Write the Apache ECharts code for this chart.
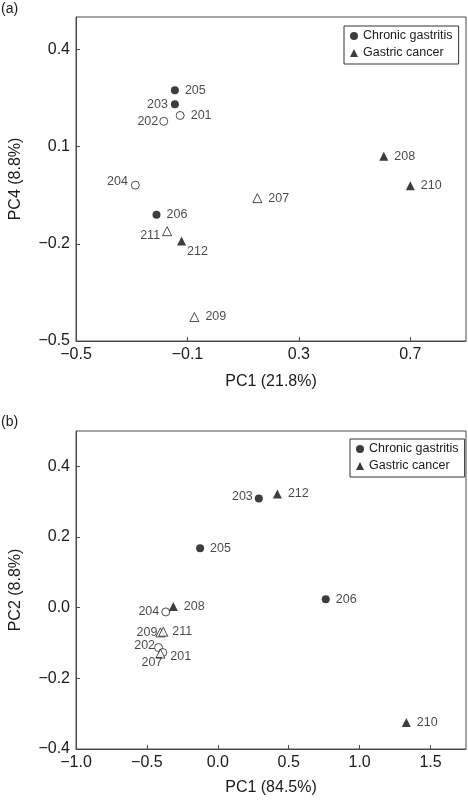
<!DOCTYPE html>
<html><head><meta charset="utf-8">
<script src="https://cdn.jsdelivr.net/npm/echarts@6/dist/echarts.min.js"></script>
<style>html,body{margin:0;padding:0;background:#fff}#c{width:468px;height:800px}</style>
</head><body><div id="c"></div>
<script>
// Panel (a): PC1 (21.8%) vs PC4 (8.8%)   [PC1, PC4, sample]
const aCGFilled = [[-0.145, 0.274, '205'], [-0.145, 0.231, '203'], [-0.211, -0.110, '206']];
const aCGOpen   = [[-0.126, 0.196, '201'], [-0.185, 0.178, '202'], [-0.287, -0.019, '204']];
const aGCFilled = [[0.605, 0.070, '208'], [0.700, -0.021, '210'], [-0.121, -0.191, '212']];
const aGCOpen   = [[0.151, -0.059, '207'], [-0.173, -0.161, '211'], [-0.075, -0.426, '209']];
const aXTicks = [-0.5, -0.1, 0.3, 0.7];
const aYTicks = [-0.5, -0.2, 0.1, 0.4];

// Panel (b): PC1 (84.5%) vs PC2 (8.8%)   [PC1, PC2, sample]
const bCGFilled = [[0.289, 0.309, '203'], [-0.125, 0.168, '205'], [0.761, 0.024, '206']];
const bCGOpen   = [[-0.367, -0.012, '204'], [-0.418, -0.113, '202'], [-0.388, -0.127, '201']];
const bGCFilled = [[0.420, 0.322, '212'], [-0.314, 0.003, '208'], [1.329, -0.325, '210']];
const bGCOpen   = [[-0.405, -0.070, '209'], [-0.385, -0.068, '211'], [-0.405, -0.130, '207']];
const bXTicks = [-1.0, -0.5, 0.0, 0.5, 1.0, 1.5];
const bYTicks = [-0.4, -0.2, 0.0, 0.2, 0.4];

const legendNames = ['Chronic gastritis', 'Gastric cancer'];

const F = '"Liberation Sans", Arial, Helvetica, sans-serif';
const TXT = '#1a1a1a';
const AX = '#4a4a4a';

// label placement (style only)
const placeA = {
  '203': {position: 'left', distance: 3},
  '202': {position: 'left', distance: 1},
  '204': {position: 'left', distance: 3, offset: [0, -4]},
  '211': {position: 'left', distance: 2, offset: [0, 4]},
  '212': {position: 'right', distance: 6, offset: [-5, 11]}
};
const placeB = {
  '203': {position: 'left', distance: 2, offset: [0, -2]},
  '204': {position: 'left', distance: 2},
  '209': {position: 'left', distance: 1, offset: [3, 0]},
  '202': {position: 'left', distance: 1, offset: [2, -2]},
  '207': {position: 'left', distance: 1, offset: [8, 9]},
  '201': {position: 'right', distance: 6, offset: [-3, 4]},
  '211': {position: 'right', distance: 6, offset: [-2, 0]}
};

function fmt(v) {
  return (v < 0 ? '\u2212' : '') + Math.abs(v).toFixed(1);
}

function mk(name, data, symbol, filled, gi, place) {
  return {
    type: 'scatter', name: name, xAxisIndex: gi, yAxisIndex: gi,
    symbol: symbol, symbolSize: symbol === 'circle' ? 8 : 9,
    itemStyle: filled ? {color: '#0d0d0d', borderWidth: 0}
                      : {color: '#fff', borderColor: '#222', borderWidth: 1},
    label: {show: true, position: 'right', distance: 6, formatter: function (p) { return p.name; },
            fontSize: 12.5, color: TXT, fontFamily: F},
    emphasis: {disabled: true},
    z: filled ? 3 : 2,
    data: data.map(function (d) {
      const item = {value: [d[0], d[1]], name: d[2]};
      if (place[d[2]]) item.label = place[d[2]];
      return item;
    })
  };
}

function axis(gi, min, max, ticks, name, gap) {
  return {
    type: 'value', gridIndex: gi, min: min, max: max,
    name: name, nameLocation: 'middle', nameGap: gap,
    nameTextStyle: {fontSize: 16, color: TXT, fontFamily: F},
    axisLine: {show: true, onZero: false, lineStyle: {color: AX, width: 1}},
    axisTick: {show: true, inside: true, length: 4, customValues: ticks, lineStyle: {color: AX}},
    axisLabel: {customValues: ticks, formatter: fmt, fontSize: 16, color: TXT, margin: 6, fontFamily: F},
    splitLine: {show: false}
  };
}

function legend(left, top) {
  return {
    data: legendNames, orient: 'vertical', left: left, top: top,
    itemWidth: 8, itemHeight: 8, itemGap: 3, padding: [3, 6, 4, 6],
    borderColor: '#333', borderWidth: 1, backgroundColor: '#fff',
    selectedMode: false,
    textStyle: {fontSize: 12.5, color: TXT, fontFamily: F, lineHeight: 14}
  };
}

const chart = echarts.init(document.getElementById('c'), null, {renderer: 'canvas'});
chart.setOption({
  animation: false,
  backgroundColor: '#fff',
  title: [
    {text: '(a)', left: 1, top: 2, padding: 0, textStyle: {fontSize: 14, fontWeight: 'normal', color: TXT, fontFamily: F}},
    {text: '(b)', left: 1, top: 415, padding: 0, textStyle: {fontSize: 14, fontWeight: 'normal', color: TXT, fontFamily: F}}
  ],
  grid: [
    {left: 70, top: 17, width: 396, height: 324, show: true, borderColor: AX, borderWidth: 1, backgroundColor: 'transparent'},
    {left: 70, top: 431, width: 396, height: 318, show: true, borderColor: AX, borderWidth: 1, backgroundColor: 'transparent'}
  ],
  xAxis: [
    axis(0, -0.5, 0.9, aXTicks, 'PC1 (21.8%)', 33),
    axis(1, -1.0, 1.75, bXTicks, 'PC1 (84.5%)', 31)
  ],
  yAxis: [
    axis(0, -0.5, 0.5, aYTicks, 'PC4 (8.8%)', 52),
    axis(1, -0.4, 0.5, bYTicks, 'PC2 (8.8%)', 52)
  ],
  legend: [legend(344, 26), legend(350, 439)],
  series: [
    mk(legendNames[0], aCGFilled, 'circle', true, 0, placeA),
    mk(legendNames[1], aGCFilled, 'triangle', true, 0, placeA),
    mk(legendNames[0], aCGOpen, 'circle', false, 0, placeA),
    mk(legendNames[1], aGCOpen, 'triangle', false, 0, placeA),
    mk(legendNames[0], bCGFilled, 'circle', true, 1, placeB),
    mk(legendNames[1], bGCFilled, 'triangle', true, 1, placeB),
    mk(legendNames[0], bCGOpen, 'circle', false, 1, placeB),
    mk(legendNames[1], bGCOpen, 'triangle', false, 1, placeB)
  ]
});
</script>
</body></html>
